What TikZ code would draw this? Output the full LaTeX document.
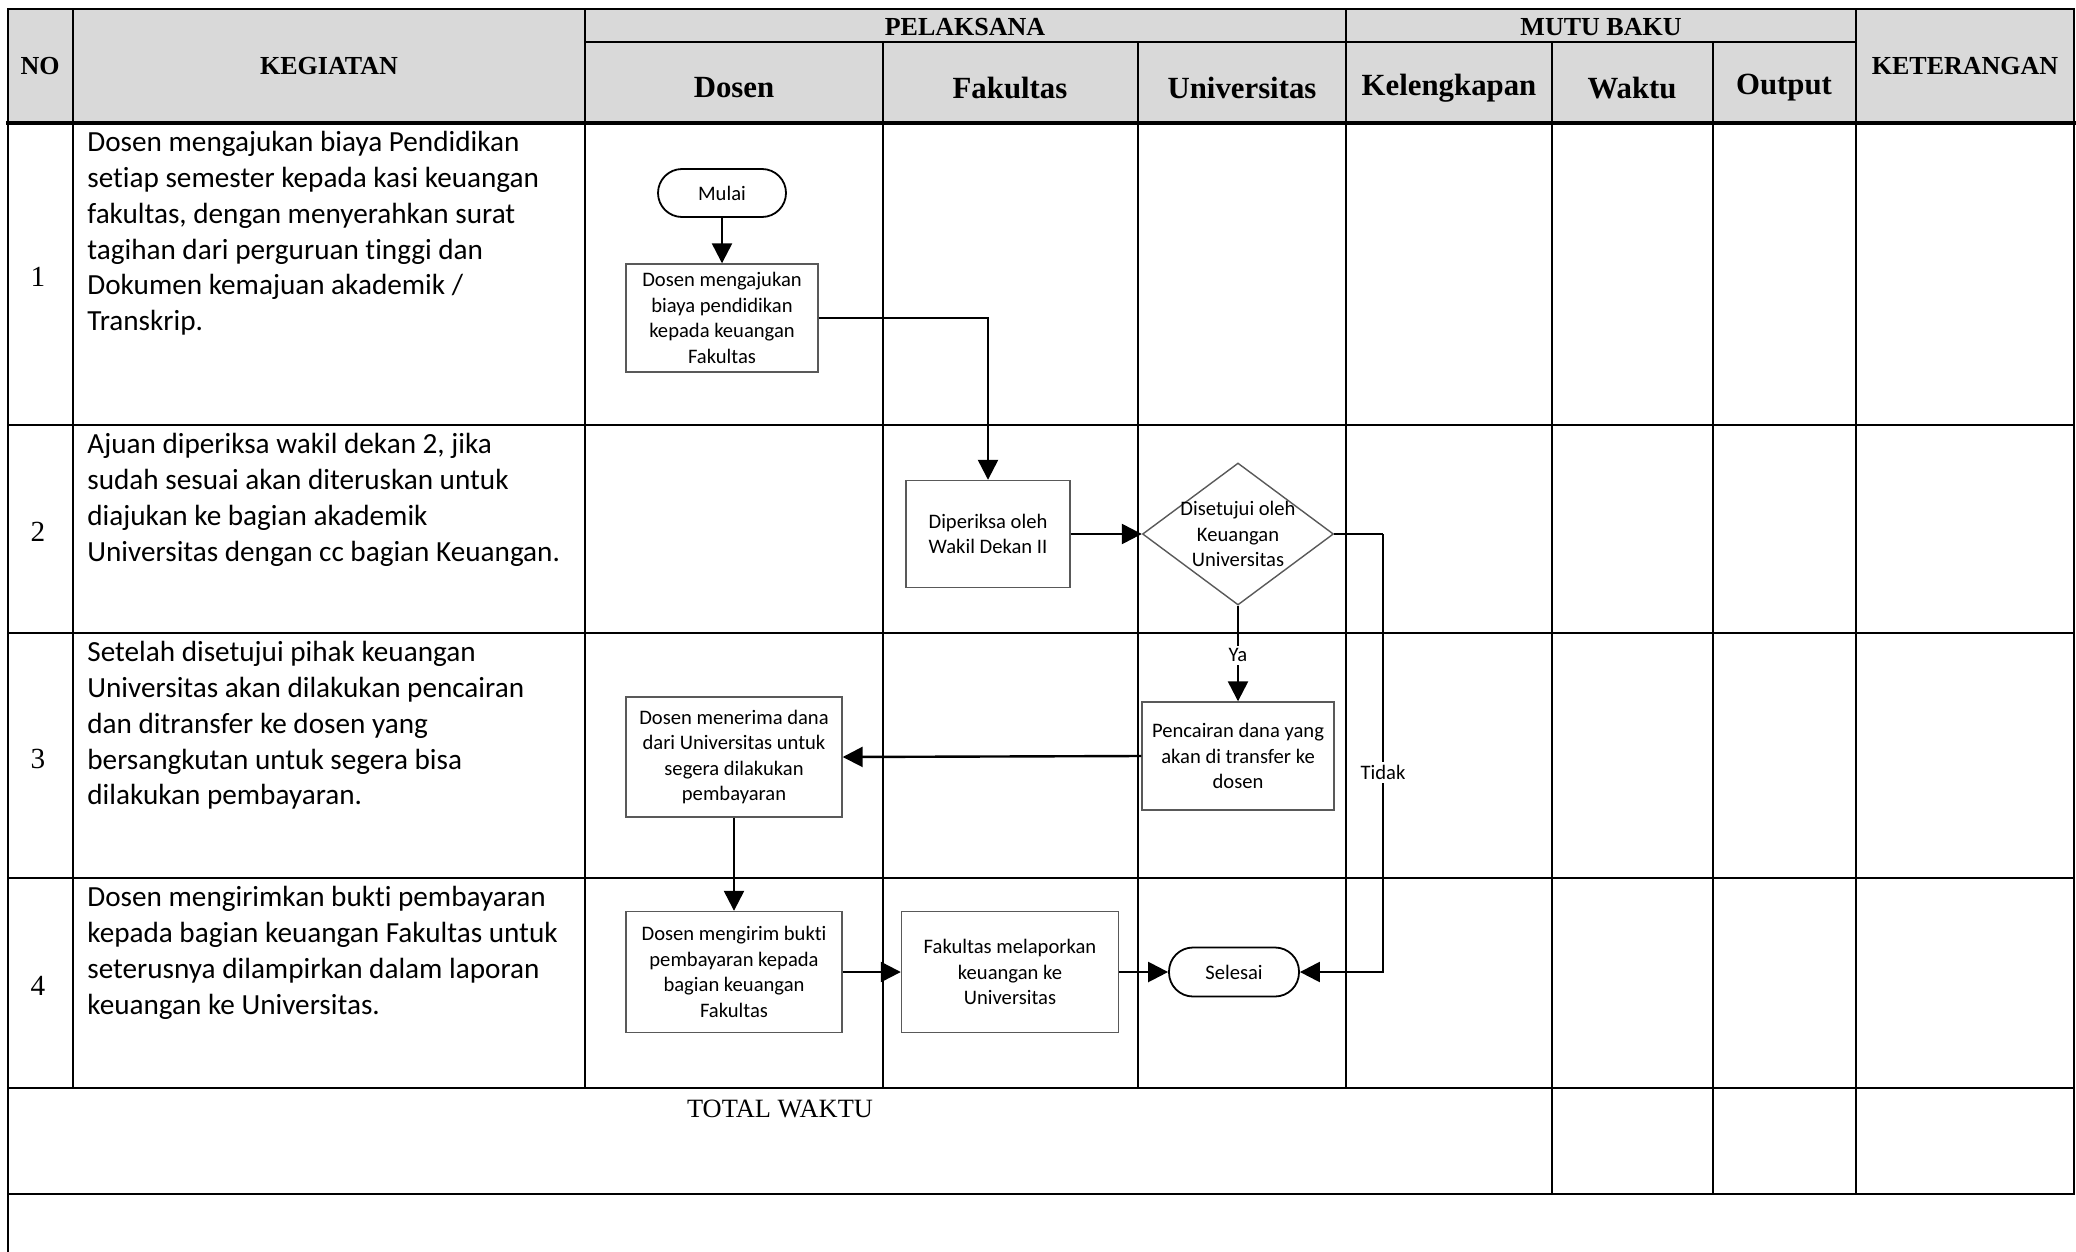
\documentclass[tikz,border=0pt]{standalone}
\usepackage{fontspec}
\setmainfont{Liberation Serif}
\newfontfamily\calfont[Ligatures={NoCommon},Contextuals={NoAlternate}]{Carlito}
\usetikzlibrary{shapes.geometric,arrows.meta}

\begin{document}
\begin{tikzpicture}[x=0.5pt,y=-0.5pt,
  grid/.style={line width=1.2pt,line cap=rect},
  hdr/.style={font=\fontsize{13}{15}\selectfont\bfseries,inner sep=0pt},
  subhdr/.style={font=\fontsize{15.4}{17}\selectfont\bfseries,inner sep=0pt},
  desc/.style={font=\calfont\fontsize{14.6}{17.9}\selectfont,anchor=north west,inner sep=0pt,align=left},
  num/.style={font=\fontsize{14.6}{17}\selectfont,inner sep=0pt},
  boxtxt/.style={font=\calfont\fontsize{10.3}{12.7}\selectfont,align=center},
  proc/.style={boxtxt,draw=black!65,line width=0.7pt,fill=white,inner sep=1pt},
  term/.style={boxtxt,draw=black,line width=0.9pt,fill=white,rounded corners=12pt},
  lbl/.style={font=\calfont\fontsize{10.3}{12.7}\selectfont,fill=white,inner sep=1.5pt},
  conn/.style={line width=1.2pt,-{Triangle[length=10pt,width=10pt]}},
  plain/.style={line width=1.2pt}
]
\useasboundingbox (0,0) rectangle (2076,1252);
\fill[white] (0,0) rectangle (2076,1252);

% header fill
\fill[black!15] (8,9) rectangle (2074,123);

% horizontal rules
\draw[grid] (8,9) -- (2074,9);
\draw[grid] (585,42) -- (1856,42);
\draw[grid,line width=1.6pt] (8,123) -- (2074,123);
\foreach \yy in {425,633,878,1088,1194} \draw[grid] (8,\yy) -- (2074,\yy);
% vertical rules
\draw[grid] (8,9) -- (8,1252);
\foreach \xx in {73,585} \draw[grid] (\xx,9) -- (\xx,1088);
\foreach \xx in {883,1138} \draw[grid] (\xx,42) -- (\xx,1088);
\draw[grid] (1346,9) -- (1346,1088);
\foreach \xx in {1552,1713} \draw[grid] (\xx,42) -- (\xx,1194);
\draw[grid] (1856,9) -- (1856,1194);
\draw[grid] (2074,9) -- (2074,1194);

% header labels
\node[hdr] (hNo) at (40,66) {NO};
\node[hdr] (hKeg) at (329,66) {KEGIATAN};
\node[hdr] (hPel) at (965,27) {PELAKSANA};
\node[hdr] (hMutu) at (1601,27) {MUTU BAKU};
\node[hdr] (hKet) at (1965,66) {KETERANGAN};
\node[subhdr] (hDos) at (734,88) {Dosen};
\node[subhdr] (hFak) at (1010,88) {Fakultas};
\node[subhdr] (hUni) at (1242,88) {Universitas};
\node[subhdr] (hKel) at (1449,88) {Kelengkapan};
\node[subhdr] (hWak) at (1632,88) {Waktu};
\node[subhdr] (hOut) at (1784,88) {Output};

% row numbers
\node[num] (n1) at (38,277) {1};
\node[num] (n2) at (38,532) {2};
\node[num] (n3) at (38,759) {3};
\node[num] (n4) at (38,986) {4};

% descriptions
\node[desc] (d1) at (87,131) {Dosen mengajukan biaya Pendidikan\\setiap semester kepada kasi keuangan\\fakultas, dengan menyerahkan surat\\tagihan dari perguruan tinggi dan\\Dokumen kemajuan akademik /\\Transkrip.};
\node[desc] (d2) at (87,433) {Ajuan diperiksa wakil dekan 2, jika\\sudah sesuai akan diteruskan untuk\\diajukan ke bagian akademik\\Universitas dengan cc bagian Keuangan.};
\node[desc] (d3) at (87,641) {Setelah disetujui pihak keuangan\\Universitas akan dilakukan pencairan\\dan ditransfer ke dosen yang\\bersangkutan untuk segera bisa\\dilakukan pembayaran.};
\node[desc] (d4) at (87,886) {Dosen mengirimkan bukti pembayaran\\kepada bagian keuangan Fakultas untuk\\seterusnya dilampirkan dalam laporan\\keuangan ke Universitas.};

% total
\node[font=\fontsize{13.2}{15}\selectfont,inner sep=0pt] (tot) at (780,1109) {TOTAL WAKTU};

% flowchart nodes
\node[term,minimum width=64pt,minimum height=24pt] (mulai) at (722,193) {Mulai};
\node[proc,minimum width=96pt,minimum height=54pt] (b1) at (722,318) {Dosen mengajukan\\biaya pendidikan\\kepada keuangan\\Fakultas};
\node[proc,minimum width=82pt,minimum height=53.5pt] (b2) at (988,534) {Diperiksa oleh\\Wakil Dekan II};
\node[diamond,draw=black!65,line width=0.7pt,fill=white,inner sep=0pt,minimum width=95.5pt,minimum height=71pt] (dia) at (1238,534) {};
\node[boxtxt,inner sep=0pt] (diat) at (dia.center) {Disetujui oleh\\Keuangan\\Universitas};
\node[proc,minimum width=96pt,minimum height=54pt] (b3) at (1238,756) {Pencairan dana yang\\akan di transfer ke\\dosen};
\node[proc,minimum width=108pt,minimum height=60pt] (b4) at (734,757) {Dosen menerima dana\\dari Universitas untuk\\segera dilakukan\\pembayaran};
\node[proc,minimum width=108pt,minimum height=60.5pt] (b5) at (734,972) {Dosen mengirim bukti\\pembayaran kepada\\bagian keuangan\\Fakultas};
\node[proc,minimum width=108.5pt,minimum height=60.5pt] (b6) at (1010,972) {Fakultas melaporkan\\keuangan ke\\Universitas};
\node[term,minimum width=65pt,minimum height=24.5pt] (sel) at (1234,972) {Selesai};

\coordinate (t1) at (1383,534);
\coordinate (t2) at (1383,972);

% connectors
\draw[conn] (mulai) -- (b1);
\draw[conn] (b1.east) -| (b2.north);
\draw[conn] (b2) -- (dia);
\draw[conn] (dia.south) -- node[lbl,pos=0.52] (ya) {Ya} (b3.north);
\draw[plain] (dia.east) -- (t1);
\draw[conn] (t1) -- node[lbl,pos=0.545] (tidak) {Tidak} (t2) -- (sel.east);
\draw[conn] (b3.west) -- (b4.east);
\draw[conn] (b4) -- (b5);
\draw[conn] (b5) -- (b6);
\draw[conn] (b6) -- (sel);
\end{tikzpicture}
\end{document}
